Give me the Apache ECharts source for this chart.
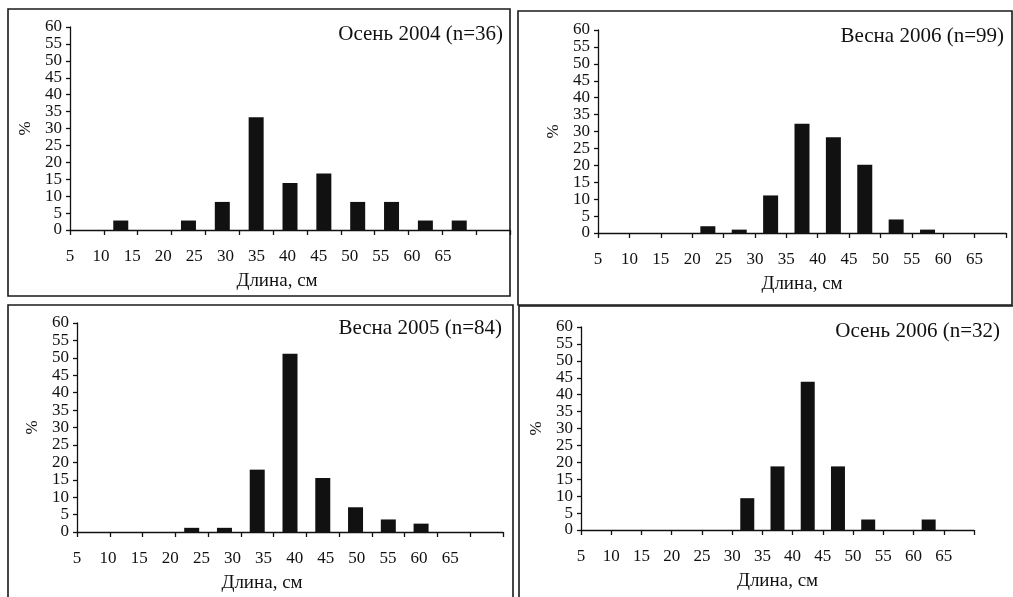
<!DOCTYPE html>
<html>
<head>
<meta charset="utf-8">
<script src="https://cdn.jsdelivr.net/npm/echarts@6/dist/echarts.min.js"></script>
<style>
html,body{margin:0;padding:0;background:#fff;}
#chart{width:1013px;height:597px;}
</style>
</head>
<body>
<div id="chart"></div>
<script>
// Length classes (bin midpoints, cm) and axis tick labels
const lengthBins = [7.5, 12.5, 17.5, 22.5, 27.5, 32.5, 37.5, 42.5, 47.5, 52.5, 57.5, 62.5, 67.5];
const xTickLabels = ['5','10','15','20','25','30','35','40','45','50','55','60','65'];
const yTickLabels = ['0','5','10','15','20','25','30','35','40','45','50','55','60'];

// Panel titles
const titles = ['Осень 2004 (n=36)', 'Весна 2006 (n=99)', 'Весна 2005 (n=84)', 'Осень 2006 (n=32)'];

// Percent of fish in each length class
const autumn2004 = [0, 2.8, 0, 2.8, 8.3, 33.3, 13.9, 16.7, 8.3, 8.3, 2.8, 2.8, 0];
const spring2006 = [0, 0, 0, 2.0, 1.0, 11.1, 32.3, 28.3, 20.2, 4.0, 1.0, 0, 0];
const spring2005 = [0, 0, 0, 1.2, 1.2, 17.9, 51.2, 15.5, 7.1, 3.6, 2.4, 0, 0];
const autumn2006 = [0, 0, 0, 0, 0, 9.4, 18.8, 43.8, 18.8, 3.1, 0, 3.1, 0];

const seriesValues = [autumn2004, spring2006, spring2005, autumn2006];

// Layout (pixels)
const panels = [
  {grid:{left:70, top:27, width:440, height:203}, labelMax:75.78, nameShift:26, titlePos:{right:505, top:19}, box:[8,9,502,287], barW:15},
  {grid:{left:598, top:30, width:408, height:203}, labelMax:70, nameShift:0, titlePos:{right:4, top:21}, box:[518,11,494,294], barW:15},
  {grid:{left:77, top:323, width:426, height:209}, labelMax:73.5, nameShift:56, titlePos:{right:506, top:313}, box:[8,305,505,300], barW:15},
  {grid:{left:581, top:327, width:393, height:203}, labelMax:70, nameShift:0, titlePos:{right:8, top:316}, box:[519,306,500,300], barW:14}
];

const FONT = 'Liberation Serif';
const black = '#111';

const option = {
  backgroundColor: '#fff',
  animation: false,
  title: [], grid: [], xAxis: [], yAxis: [], series: [],
  graphic: []
};

panels.forEach((p, i) => {
  option.grid.push(Object.assign({containLabel:false}, p.grid));
  option.title.push({
    text: titles[i],
    right: p.titlePos.right,
    top: p.titlePos.top,
    textStyle: {fontFamily: FONT, fontSize: 21, fontWeight: 'normal', color: black}
  });
  // primary x axis: ticks and line
  option.xAxis.push({
    type: 'value', gridIndex: i, min: 5, max: 70, interval: 5,
    axisLine: {show: true, onZero: false, lineStyle: {color: black, width: 1.3}},
    axisTick: {show: true, length: 5, lineStyle: {color: black, width: 1.3}},
    axisLabel: {show: false},
    splitLine: {show: false}
  });
  // label x axis
  option.xAxis.push({
    type: 'value', gridIndex: i, min: 5, max: p.labelMax, interval: 5, position: 'bottom',
    axisLine: {show: false}, axisTick: {show: false}, splitLine: {show: false},
    axisLabel: {
      show: true, margin: 18, fontFamily: FONT, fontSize: 17, color: black,
      showMaxLabel: true, showMinLabel: true,
      formatter: v => xTickLabels.indexOf(String(v)) >= 0 ? String(v) : ''
    },
    name: 'Длина, см', nameLocation: 'middle', nameGap: 42,
    nameTextStyle: {fontFamily: FONT, fontSize: 19, color: black, padding: [0, p.nameShift, 0, 0]}
  });
  option.yAxis.push({
    type: 'value', gridIndex: i, min: 0, max: 60, interval: 5,
    axisLine: {show: true, lineStyle: {color: black, width: 1.3}},
    axisTick: {show: true, length: 4, lineStyle: {color: black, width: 1.3}},
    axisLabel: {
      margin: 8, color: black, fontFamily: FONT, fontSize: 17,
      showMinLabel: true, showMaxLabel: true, hideOverlap: false,
      formatter: v => yTickLabels.indexOf(String(v)) >= 0 ? String(v) : ''
    },
    splitLine: {show: false},
    name: '%', nameLocation: 'middle', nameRotate: 90, nameGap: 36,
    nameTextStyle: {fontFamily: FONT, fontSize: 17, color: black}
  });
  option.series.push({
    type: 'bar', xAxisIndex: 2 * i, yAxisIndex: i,
    barWidth: p.barW,
    itemStyle: {color: black},
    data: lengthBins.map((b, k) => [b, seriesValues[i][k]])
  });
  option.graphic.push({
    type: 'rect', silent: true,
    shape: {x: p.box[0], y: p.box[1], width: p.box[2], height: p.box[3]},
    style: {fill: null, stroke: '#1a1a1a', lineWidth: 1.6}
  });
});

const chart = echarts.init(document.getElementById('chart'), null, {renderer: 'canvas'});
chart.setOption(option);
</script>
</body>
</html>
